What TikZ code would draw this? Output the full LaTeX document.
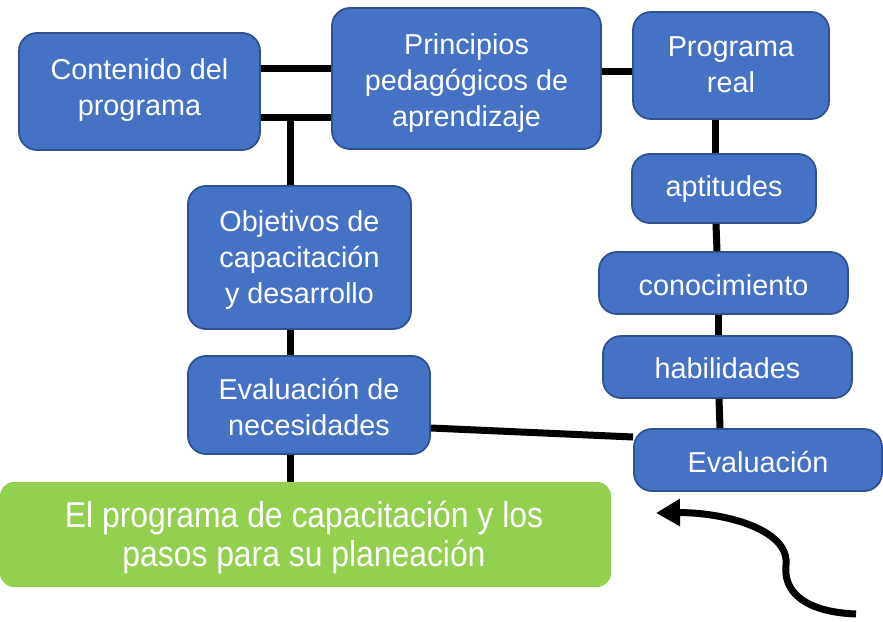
\documentclass[tikz,border=0pt]{standalone}
\usepackage{fontspec}
\setmainfont{Liberation Sans}
\newfontfamily\narrowfont[FakeStretch=0.885]{Liberation Sans}
\usetikzlibrary{arrows.meta}
\definecolor{boxblue}{HTML}{4472C4}
\definecolor{boxedge}{HTML}{2F528F}
\definecolor{boxgreen}{HTML}{92D050}
\tikzset{
  bluebox/.style={draw=boxedge, line width=1.8pt, fill=boxblue, rounded corners=18pt, inner sep=0pt},
  bluetext/.style={text=white, align=center, inner sep=0pt, font=\fontsize{28.8}{36}\selectfont},
  greenbox/.style={fill=boxgreen, rounded corners=14pt, inner sep=0pt},
  greentext/.style={text=white, align=center, inner sep=0pt, font=\narrowfont\fontsize{36}{39}\selectfont},
  conn/.style={draw=black, line width=7pt},
}
\begin{document}
\begin{tikzpicture}[x=1pt,y=-1pt]
\useasboundingbox (0,0) rectangle (883,621);
% boxes
\node[bluebox, minimum width=241pt, minimum height=117pt] (cont) at (139.5,91.5) {};
\node[bluebox, minimum width=269pt, minimum height=141pt] (prin) at (466.5,78.5) {};
\node[bluebox, minimum width=196pt, minimum height=107pt] (real) at (731,65.5) {};
\node[bluebox, minimum width=184pt, minimum height=69pt] (apt) at (724,188.5) {};
\node[bluebox, minimum width=249pt, minimum height=62pt] (con) at (723.5,283) {};
\node[bluebox, minimum width=249pt, minimum height=62pt] (hab) at (727.5,367) {};
\node[bluebox, minimum width=248pt, minimum height=62pt] (eval) at (758,460) {};
\node[bluebox, minimum width=223pt, minimum height=143pt] (obj) at (299.5,257.5) {};
\node[bluebox, minimum width=242pt, minimum height=98pt] (nec) at (309,405) {};
\node[greenbox, minimum width=611pt, minimum height=105pt] (plan) at (305.5,534.5) {};
% texts
\node[bluetext] (cont-t) at ([yshift=1.5pt]cont.center) {Contenido del\\programa};
\node[bluetext] (prin-t) at ([yshift=-5pt]prin.center) {Principios\\pedagógicos de\\aprendizaje};
\node[bluetext] (real-t) at ([yshift=1pt]real.center) {Programa\\real};
\node[bluetext] (apt-t) at ([yshift=-1pt]apt.center) {aptitudes};
\node[bluetext] (con-t) at ([yshift=-2pt]con.center) {conocimiento};
\node[bluetext] (hab-t) at ([yshift=-1pt]hab.center) {habilidades};
\node[bluetext] (eval-t) at ([yshift=-2pt]eval.center) {Evaluación};
\node[bluetext] (obj-t) at ([yshift=-3pt]obj.center) {Objetivos de\\capacitación\\y desarrollo};
\node[bluetext] (nec-t) at ([yshift=-2pt]nec.center) {Evaluación de\\necesidades};
\node[greentext] (plan-t) at (304,537.5) {El programa de capacitación y los\\pasos para su planeación};
% connectors
\draw[conn] (cont.east |- 0,68) -- (prin.west |- 0,68);
\draw[conn] (cont.east |- 0,117) -- (prin.west |- 0,117);
\draw[conn] (prin.east |- 0,71) -- (real.west |- 0,71);
\coordinate (j) at (290,117);
\draw[conn] (j) -- (obj.north -| j);
\draw[conn] (obj.south -| j) -- (nec.north -| j);
\draw[conn] (nec.south -| j) -- (plan.north -| j);
\draw[conn] (real.south -| 715,0) -- (apt.north -| 715,0);
\draw[conn] (apt.south -| 716,0) -- (con.north -| 717,0);
\draw[conn] (con.south -| 718,0) -- (hab.north -| 718,0);
\draw[conn] (hab.south -| 719,0) -- (eval.north -| 720,0);
\draw[conn] (nec.east |- 0,428) -- (eval.west |- 0,437);
% curved arrow
\coordinate (cs) at (856,614);
\coordinate (ce) at (656,513);
\draw[line width=7pt, -{Triangle[length=24pt,width=26pt]}] (cs) .. controls (805,612) and (783,592) .. (786,565) .. controls (790,528) and (720,512) .. (ce);
\end{tikzpicture}
\end{document}
